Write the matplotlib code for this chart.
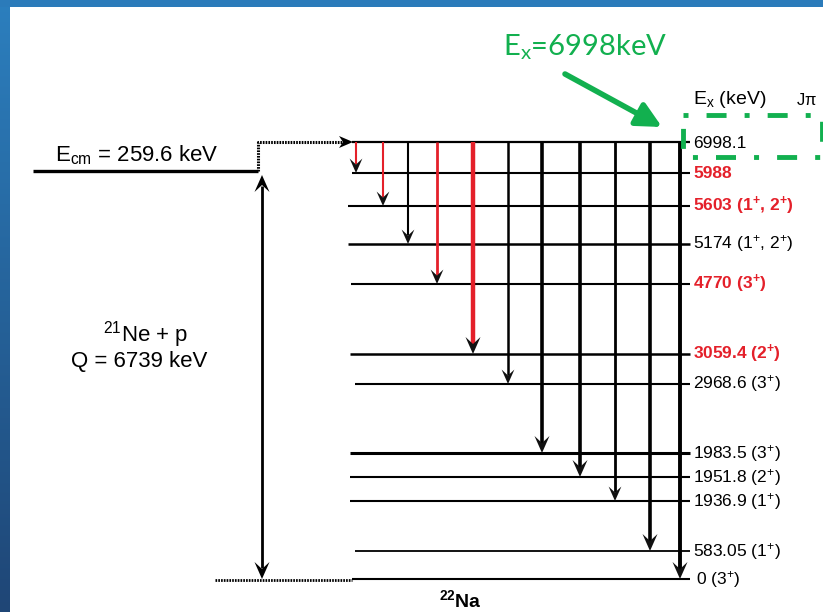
import matplotlib
matplotlib.use("Agg")
import matplotlib.pyplot as plt
import numpy as np
from matplotlib.patches import Polygon, Rectangle
from matplotlib.colors import LinearSegmentedColormap

plt.rcParams['font.family'] = ['Liberation Sans', 'DejaVu Sans']
plt.rcParams['mathtext.default'] = 'regular'
plt.rcParams['lines.scale_dashes'] = False

# ---------------- data ----------------
level_energies = [6998.1, 5988, 5603, 5174, 4770, 3059.4, 2968.6, 1983.5, 1951.8, 1936.9, 583.05, 0]
level_spins = ['', '', '(1$^{+}$, 2$^{+}$)', '(1$^{+}$, 2$^{+}$)', '(3$^{+}$)', '(2$^{+}$)',
               '(3$^{+}$)', '(3$^{+}$)', '(2$^{+}$)', '(1$^{+}$)', '(1$^{+}$)', '(3$^{+}$)']
level_new = [False, True, True, False, True, True, False, False, False, False, False, False]

gamma_final = [5988, 5603, 5174, 4770, 3059.4, 2968.6, 1983.5, 1951.8, 1936.9, 583.05, 0]
gamma_new = [True, True, False, True, True, False, False, False, False, False, False]

resonance_energy = 6998.1
ecm_text = 'E$_{cm}$ = 259.6 keV'
entrance_text = '$^{21}$Ne + p'
q_text = 'Q = 6739 keV'
nucleus = '$^{22}$Na'
highlight_text = 'E$_{x}$=6998keV'

# ---------------- layout (schematic drawing positions) ----------------
level_y = [142, 173, 206, 244, 284, 354, 384, 453, 477, 501, 551, 579]
level_x0 = [352, 352, 348, 348, 351, 350, 355, 350, 350, 350, 355, 352]
level_lw = [1.6, 1.5, 1.5, 1.8, 1.5, 1.8, 1.5, 2.2, 1.5, 1.5, 1.3, 1.5]
level_x1 = 690
gamma_x = [356, 383, 408, 437, 473, 508, 542, 580, 615, 650, 680]
gamma_lw = [1.5, 1.5, 1.5, 2.0, 3.2, 1.8, 2.6, 2.6, 2.0, 2.6, 2.8]

RED = '#e4202a'
GREEN = '#12b04f'

fig = plt.figure(figsize=(8.23, 6.12), dpi=100)
ax = fig.add_axes([0, 0, 1, 1])
ax.set_xlim(0, 823)
ax.set_ylim(612, 0)
ax.axis('off')

# blue slide frame
grad = np.linspace(0, 1, 256).reshape(-1, 1)
cmap = LinearSegmentedColormap.from_list('b', ['#2c7fbe', '#1f4676'])
ax.imshow(grad, extent=[0, 10, 612, 0], cmap=cmap, aspect='auto', zorder=0)
ax.add_patch(Rectangle((0, 0), 823, 7, color='#2b7bba', lw=0, zorder=0))

ypos = dict(zip(level_energies, level_y))


def head(x, y, direction, color, size=1.0):
    # barbed arrow head with tip at (x, y); direction +1 = pointing down
    L, W, N = 17 * size, 7.5 * size, 10 * size
    pts = [(x, y), (x - W, y - direction * L), (x, y - direction * N), (x + W, y - direction * L)]
    ax.add_patch(Polygon(pts, closed=True, color=color, lw=0, zorder=5))


# levels
for e, y, x0, lw, spin, new in zip(level_energies, level_y, level_x0, level_lw, level_spins, level_new):
    ax.plot([x0, level_x1], [y, y], color='black', lw=lw, solid_capstyle='butt', zorder=3)
    lab = ('%g' % e) if e != 6998.1 else '6998.1'
    if spin:
        lab = lab + ' ' + spin
    dy = 2 if e == resonance_energy else 0
    ax.text(693 if e != 0 else 696, y + dy, lab, fontsize=12.5, va='center', ha='left',
            color=RED if new else 'black', fontweight='bold' if new else 'normal', zorder=6)

# gamma transitions
ytop = ypos[resonance_energy]
for ef, x, lw, new in zip(gamma_final, gamma_x, gamma_lw, gamma_new):
    yb = ypos[ef]
    c = RED if new else 'black'
    ax.plot([x, x], [ytop, yb - 9], color=c, lw=lw, solid_capstyle='butt', zorder=4)
    head(x, yb, 1, '#111111', 1.0 if lw > 2 else 0.85)

# header
ax.text(693, 100, 'E$_{x}$ (keV)', fontsize=14, va='center', ha='left')
ax.text(796, 100, 'J$\\pi$', fontsize=12, va='center', ha='left')

# entrance channel
ax.plot([33, 258], [171, 171], color='black', lw=2.4, solid_capstyle='butt', zorder=3)
ax.text(55, 155, ecm_text, fontsize=16, va='center', ha='left')
ax.plot([258, 258, 345], [171, 142, 142], color='black', lw=2.2, ls=(0, (1.2, 0.8)), zorder=3)
ax.add_patch(Polygon([(353, 142), (339, 136), (343, 142), (339, 148)], closed=True,
                     color='black', lw=0, zorder=5))

# Q-value double arrow
ax.plot([262, 262], [186, 568], color='black', lw=2.0, solid_capstyle='butt', zorder=3)
head(262, 175, -1, 'black', 1.0)
head(262, 579, 1, 'black', 1.0)
ax.plot([215, 352], [580, 580], color='black', lw=2.0, ls=(0, (1.2, 0.8)), zorder=3)
ax.text(146, 335, entrance_text, fontsize=16, va='center', ha='center')
ax.text(139, 362, q_text, fontsize=16, va='center', ha='center')

ax.text(460, 600, nucleus, fontsize=14, va='center', ha='center', fontweight='bold')

# green highlight
ax.text(503, 47, highlight_text, fontsize=21, color=GREEN, va='center', ha='left',
        family=['Lato', 'Liberation Sans'])
ax.annotate('', xy=(662, 127), xytext=(565, 74),
            arrowprops=dict(arrowstyle='-|>,head_length=1.5,head_width=0.75', mutation_scale=10,
                            lw=4, color=GREEN, shrinkA=0, shrinkB=0))
ax.add_patch(Rectangle((683, 115), 139, 42, fill=False, edgecolor=GREEN, lw=3.5,
                       ls=(0, (3.6, 13, 14.4, 13)), zorder=7))

fig.savefig('out.png', dpi=100)
